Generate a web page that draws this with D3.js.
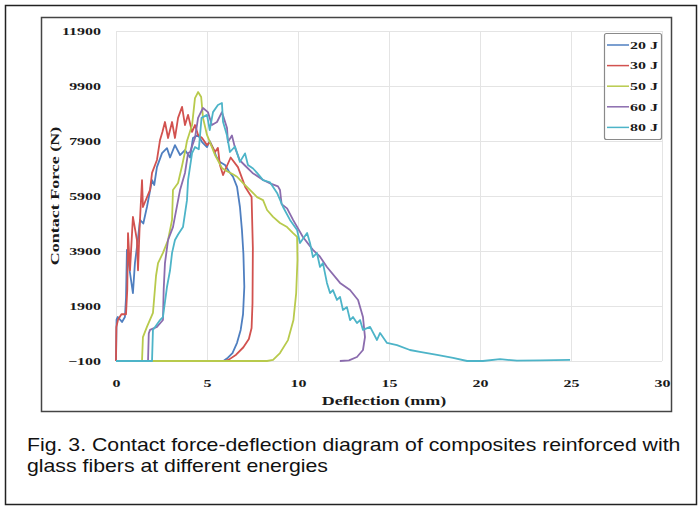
<!DOCTYPE html>
<html>
<head>
<meta charset="utf-8">
<script src="https://cdn.jsdelivr.net/npm/d3@7"></script>
<style>
  body { margin: 0; background: #fff; }
  .tick text { font-family: "Liberation Serif", serif; font-weight: bold; font-size: 11px; fill: #1a1a1a; }
  .grid line { stroke: #e4e4e4; stroke-width: 1; }
  .grid path { display: none; }
</style>
</head>
<body>
<svg id="chart" width="698" height="506"></svg>
<script>
// series names and tick values
var seriesNames = ["20 J", "30 J", "50 J", "60 J", "80 J"];
var seriesColors = ["#4f7fc0", "#d2524f", "#b8ca4c", "#8b6cae", "#4db4c8"];
var xTicks = [0, 5, 10, 15, 20, 25, 30];
var yTicks = [-100, 1900, 3900, 5900, 7900, 9900, 11900];

// [deflection (mm), contact force (N)]
var e20 = [[0,-100],[0.03,1400],[0.1,1500],[0.33,1320],[0.49,1500],[0.55,2200],[0.6,3940],[0.77,3100],[0.93,2370],
  [1.04,3460],[1.2,4300],[1.32,5030],[1.5,4900],[1.7,5500],[1.98,6480],[2.1,6300],[2.25,6950],[2.53,7460],[2.8,7640],
  [2.97,7300],[3.24,7750],[3.52,7390],[3.79,7570],[4.07,7300],[4.23,8010],[4.51,8120],[4.73,7860],[5.0,7680],[5.15,7900],
  [5.33,7640],[5.5,7350],[5.71,7140],[5.99,7030],[6.2,6800],[6.43,6600],[6.65,6230],[6.81,5500],[6.92,4660],[7.0,3800],
  [7.05,2600],[6.98,1600],[6.85,1030],[6.65,560],[6.4,190],[6.15,20],[5.9,-100],[0,-100]];

var e30 = [[0,-100],[0.02,1130],[0.11,1400],[0.3,1600],[0.55,1600],[0.62,2500],[0.66,4550],[0.77,3200],[0.93,5140],
  [1.15,4300],[1.21,3200],[1.3,4800],[1.43,6480],[1.48,5500],[1.87,6120],[1.98,6740],[2.25,7210],[2.42,7940],[2.55,8230],
  [2.69,8590],[2.86,8010],[3.08,8590],[3.24,8010],[3.41,8740],[3.63,9140],[3.79,8480],[3.96,8850],[4.18,8230],[4.34,8480],
  [4.51,8120],[4.73,8010],[5.0,7750],[5.16,7860],[5.44,7500],[5.6,7650],[5.71,7030],[5.88,6660],[6.1,7000],[6.3,7300],
  [6.7,6950],[7.1,6230],[7.45,5860],[7.52,4000],[7.5,2000],[7.45,1100],[7.3,700],[7.0,400],[6.6,130],[6.2,-50],[6.0,-100],[0,-100]];

var e50 = [[0,-100],[1.43,-100],[1.48,770],[1.7,1140],[2.03,1650],[2.2,3000],[2.31,3460],[2.58,3830],[2.86,4300],
  [3.08,5030],[3.13,6120],[3.41,6370],[3.63,7000],[3.79,7500],[3.9,7900],[4.18,8480],[4.34,9460],[4.51,9680],[4.68,9500],
  [4.78,8740],[5.0,8120],[5.16,7860],[5.44,7390],[5.82,6920],[6.1,6800],[6.4,6700],[6.65,6600],[6.98,6370],[7.36,6120],
  [7.75,5860],[8.08,5750],[8.3,5390],[8.63,5140],[9.01,4920],[9.4,4770],[9.73,4550],[9.95,4410],[9.97,3570],[9.9,2370],
  [9.75,1390],[9.45,660],[9.01,190],[8.63,-60],[8.3,-100],[0,-100]];

var e60 = [[0,-100],[1.76,-100],[1.8,900],[1.87,1030],[2.25,1140],[2.58,1390],[2.62,2500],[2.69,3460],[2.86,4300],
  [3.13,4770],[3.52,6120],[3.79,6740],[3.96,7460],[4.07,7500],[4.34,8010],[4.51,8740],[4.78,9100],[5.05,8950],[5.27,8480],
  [5.55,8590],[5.82,8950],[6.1,8370],[6.15,7860],[6.37,8100],[6.54,7650],[6.8,7200],[7.1,7000],[7.5,6740],[8.08,6480],
  [8.5,6350],[8.9,6250],[9.01,6120],[9.1,5600],[9.4,5450],[9.73,5030],[10.27,4410],[10.82,3940],[11.2,3700],[11.59,3320],
  [12.31,2740],[12.86,2480],[13.3,2120],[13.57,1500],[13.68,770],[13.57,300],[13.24,45],[12.8,-80],[12.3,-100]];

var e80 = [[0,-100],[1.98,-100],[2.03,1030],[2.42,1390],[2.58,1500],[2.8,2590],[2.97,3200],[3.08,3830],[3.24,4300],
  [3.41,4500],[3.68,4770],[3.9,5750],[3.96,6480],[4.18,7460],[4.34,7680],[4.55,7600],[4.7,8740],[5.0,8850],[5.15,8300],
  [5.33,8950],[5.6,9210],[5.82,9280],[5.88,8600],[6.1,8100],[6.26,7500],[6.54,7700],[6.81,7140],[7.09,7450],[7.25,7030],
  [7.53,6900],[7.75,6740],[8.08,6480],[8.46,6400],[8.85,6010],[9.18,5500],[9.56,5030],[9.95,4660],[10.11,4190],[10.5,4555],
  [10.66,4190],[10.82,3680],[11.04,3830],[11.21,3320],[11.37,3460],[11.59,2740],[11.76,2370],[11.92,2480],[12.14,2120],
  [12.31,2230],[12.47,1755],[12.69,1860],[12.86,1390],[13.02,1500],[13.24,1280],[13.41,1390],[13.57,1030],[13.96,1140],
  [14.34,664],[14.51,920],[14.89,555],[15.44,480],[16.15,300],[16.7,230],[17.64,120],[18.52,10],[19.29,-100],[20.16,-100],
  [21.1,-30],[22.03,-90],[23.3,-80],[24.95,-60]];

var allSeries = [e20, e30, e50, e60, e80];

var svg = d3.select("#chart");

// plot area
var plot = { left: 116, right: 662, top: 31, bottom: 361 };

var x = d3.scaleLinear().domain([0, 30]).range([plot.left, plot.right]);
var y = d3.scaleLinear().domain([-100, 11900]).range([plot.bottom, plot.top]);

// outer figure border and inner chart frame
svg.append("rect")
  .attr("x", 5.5).attr("y", 5.5).attr("width", 691).attr("height", 499)
  .attr("fill", "none").attr("stroke", "#222").attr("stroke-width", 1.5);

svg.append("rect")
  .attr("x", 41.5).attr("y", 17.5).attr("width", 630).attr("height", 394)
  .attr("fill", "#fff").attr("stroke", "#444").attr("stroke-width", 1.5);

// gridlines
svg.append("g")
  .attr("class", "grid")
  .attr("transform", `translate(0, ${plot.bottom})`)
  .call(d3.axisBottom(x).tickValues(xTicks).tickSize(-(plot.bottom - plot.top)).tickFormat(""));

svg.append("g")
  .attr("class", "grid")
  .attr("transform", `translate(${plot.left}, 0)`)
  .call(d3.axisLeft(y).tickValues(yTicks).tickSize(-(plot.right - plot.left)).tickFormat(""));

// axis labels (text is wide in the original, so stretch it horizontally)
var xAxis = svg.append("g")
  .attr("transform", `translate(0, ${plot.bottom})`)
  .call(d3.axisBottom(x).tickValues(xTicks).tickSize(0).tickFormat(d3.format("d")));
xAxis.select(".domain").remove();
xAxis.selectAll("text")
  .attr("y", 0).attr("dy", "0.32em")
  .attr("transform", "translate(0, 22) scale(1.45, 1)");

var yAxis = svg.append("g")
  .attr("transform", `translate(${plot.left}, 0)`)
  .call(d3.axisLeft(y).tickValues(yTicks).tickSize(0).tickFormat(d3.format("d")));
yAxis.select(".domain").remove();
yAxis.selectAll("text")
  .attr("x", 0).attr("dy", "0.32em")
  .attr("transform", "translate(-15, 0) scale(1.45, 1)");

// axis titles
svg.append("text")
  .attr("transform", `translate(${(plot.left + plot.right) / 2 - 5}, 405) scale(1.5, 1)`)
  .attr("text-anchor", "middle")
  .style("font-family", "Liberation Serif, serif")
  .style("font-weight", "bold")
  .style("font-size", "12px")
  .attr("fill", "#1a1a1a")
  .text("Deflection (mm)");

svg.append("text")
  .attr("transform", `translate(59, ${(plot.top + plot.bottom) / 2}) rotate(-90) scale(1.5, 1)`)
  .attr("text-anchor", "middle")
  .style("font-family", "Liberation Serif, serif")
  .style("font-weight", "bold")
  .style("font-size", "12px")
  .attr("fill", "#1a1a1a")
  .text("Contact Force (N)");

// curves
var line = d3.line()
  .x(d => x(d[0]))
  .y(d => y(d[1]));

svg.append("g")
  .selectAll("path")
  .data(allSeries)
  .enter()
  .append("path")
  .attr("d", line)
  .attr("fill", "none")
  .attr("stroke", (d, i) => seriesColors[i])
  .attr("stroke-width", 1.8)
  .attr("stroke-linejoin", "round");

// legend
var legend = svg.append("g");
legend.append("rect")
  .attr("x", 604.5).attr("y", 33.5).attr("width", 57).attr("height", 106)
  .attr("rx", 2)
  .attr("fill", "#fff").attr("stroke", "#8a8a8a").attr("stroke-width", 1.2);

var items = legend.selectAll(".item")
  .data(seriesNames)
  .enter()
  .append("g")
  .attr("class", "item")
  .attr("transform", (d, i) => `translate(0, ${45 + i * 20.6})`);

items.append("line")
  .attr("x1", 607).attr("x2", 629)
  .attr("stroke", (d, i) => seriesColors[i])
  .attr("stroke-width", 1.5);

items.append("text")
  .attr("transform", "translate(630, 0) scale(1.45, 1)")
  .attr("dy", "0.35em")
  .style("font-family", "Liberation Serif, serif")
  .style("font-weight", "bold")
  .style("font-size", "11px")
  .attr("fill", "#1a1a1a")
  .text(d => d);

// caption (also a little wide in the original)
var caption = svg.append("text")
  .attr("transform", "translate(27, 0) scale(1.215, 1)")
  .style("font-family", "Liberation Sans, Arial, sans-serif")
  .style("font-size", "17.5px")
  .attr("fill", "#111");
caption.append("tspan").attr("x", 0).attr("y", 451)
  .text("Fig. 3. Contact force-deflection diagram of composites reinforced with");
caption.append("tspan").attr("x", 0).attr("y", 472)
  .text("glass fibers at different energies");
</script>
</body>
</html>
